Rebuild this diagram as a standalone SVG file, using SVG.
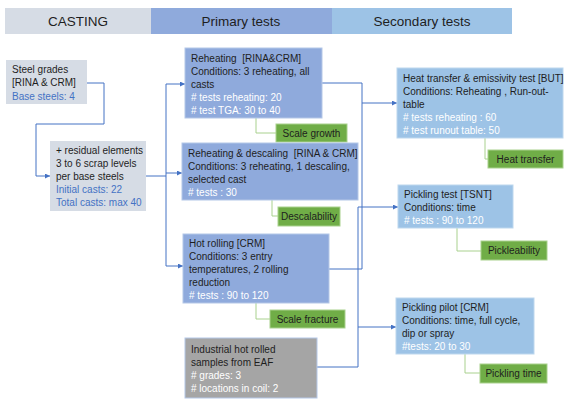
<svg xmlns="http://www.w3.org/2000/svg" width="572" height="403" viewBox="0 0 572 403">
<defs>
<style>
text{font-family:"Liberation Sans Narrow","Liberation Sans",Arial,sans-serif;font-size:10px;fill:#1e1e1e}
.hd{font-family:"Liberation Sans",Arial,sans-serif;font-size:13.5px;text-anchor:middle;fill:#1e1e1e}
.w{fill:#ffffff}
.b{fill:#4472c4}
.c{text-anchor:middle}
.cast{fill:#d6dce5}
.pri{fill:#8faadc;stroke:#b4c7e7;stroke-width:1}
.sec{fill:#9dc3e6;stroke:#bdd7ee;stroke-width:1}
.grn{fill:#70ad47;stroke:#a9d18e;stroke-width:1}
.ind{fill:#a5a5a5;stroke:#b4c7e7;stroke-width:1}
.ln{fill:none;stroke:#4472c4;stroke-width:1}
.gl{fill:none;stroke:#a9d18e;stroke-width:1}
</style>
<marker id="ar" viewBox="0 0 10 10" refX="10" refY="5" markerWidth="5" markerHeight="5" orient="auto">
<path d="M0,0 L10,5 L0,10 z" fill="#4472c4"/>
</marker>
</defs>
<rect width="572" height="403" fill="#ffffff"/>

<g id="headers">
<rect x="5" y="8" width="146" height="26" fill="#d6dce5"/>
<rect x="151" y="8" width="181" height="26" fill="#8faadc"/>
<rect x="332" y="8" width="180" height="26" fill="#9dc3e6"/>
<text class="hd" x="78" y="25.5">CASTING</text>
<text class="hd" x="241" y="25.5">Primary tests</text>
<text class="hd" x="422" y="25.5">Secondary tests</text>
</g>

<g id="connectors">
<path class="ln" d="M87,83 H104 V124 H36 V176 H50" marker-end="url(#ar)"/>
<path class="ln" d="M146,176 H166"/>
<path class="ln" d="M166,84 V266"/>
<path class="ln" d="M166,84 H185" marker-end="url(#ar)"/>
<path class="ln" d="M166,173 H182" marker-end="url(#ar)"/>
<path class="ln" d="M166,266 H183" marker-end="url(#ar)"/>
<path class="ln" d="M322,83 H362 V269 H329"/>
<path class="ln" d="M362,103 H397" marker-end="url(#ar)"/>
<path class="ln" d="M317,367 H358 V207 H398" marker-end="url(#ar)"/>
<path class="ln" d="M358,327 H396" marker-end="url(#ar)"/>
<path class="gl" d="M256,118 V133 H276"/>
<path class="gl" d="M272,200 V216 H278"/>
<path class="gl" d="M256,303 V319 H270"/>
<path class="gl" d="M485,138 V159 H488"/>
<path class="gl" d="M457,228 V251 H481"/>
<path class="gl" d="M465,354 V373 H480"/>
</g>

<g id="steel-grades">
<rect class="cast" x="6" y="60" width="81" height="44"/>
<text x="12" y="73">Steel grades</text>
<text x="12" y="86">[RINA &amp; CRM]</text>
<text class="b" x="12" y="99.5">Base steels: 4</text>
</g>

<g id="residual">
<rect class="cast" x="50" y="141" width="96" height="70"/>
<text x="56" y="154">+ residual elements</text>
<text x="56" y="167">3 to 6 scrap levels</text>
<text x="56" y="180">per base steels</text>
<text class="b" x="56" y="193">Initial casts: 22</text>
<text class="b" x="56" y="206">Total casts: max 40</text>
</g>

<g id="reheating">
<rect class="pri" x="185" y="48" width="137" height="70"/>
<text x="191" y="62">Reheating &#160;[RINA&amp;CRM]</text>
<text x="191" y="75">Conditions: 3 reheating, all</text>
<text x="191" y="88">casts</text>
<text class="w" x="191" y="101">#&#160;tests reheating: 20</text>
<text class="w" x="191" y="114">#&#160;test TGA: 30 to 40</text>
</g>

<g id="scale-growth">
<rect class="grn" x="276" y="124" width="71" height="18"/>
<text class="c" x="311.5" y="136.5">Scale growth</text>
</g>

<g id="descaling">
<rect class="pri" x="182" y="143" width="176" height="57"/>
<text x="188" y="157">Reheating &amp; descaling &#160;[RINA &amp; CRM]</text>
<text x="188" y="170">Conditions: 3 reheating, 1 descaling,</text>
<text x="188" y="183">selected cast</text>
<text class="w" x="188" y="196">#&#160;tests : 30</text>
</g>

<g id="descalability">
<rect class="grn" x="278" y="207" width="62" height="19"/>
<text class="c" x="309" y="220">Descalability</text>
</g>

<g id="hot-rolling">
<rect class="pri" x="183" y="234" width="146" height="69"/>
<text x="189" y="247">Hot rolling [CRM]</text>
<text x="189" y="260">Conditions: 3 entry</text>
<text x="189" y="273">temperatures, 2 rolling</text>
<text x="189" y="286">reduction</text>
<text class="w" x="189" y="299">#&#160;tests : 90 to 120</text>
</g>

<g id="scale-fracture">
<rect class="grn" x="270" y="310" width="75" height="18"/>
<text class="c" x="307.5" y="322.5">Scale fracture</text>
</g>

<g id="industrial">
<rect class="ind" x="185" y="338" width="132" height="60"/>
<text x="191" y="353">Industrial hot rolled</text>
<text x="191" y="366">samples from EAF</text>
<text class="w" x="191" y="379">#&#160;grades: 3</text>
<text class="w" x="191" y="392">#&#160;locations in coil: 2</text>
</g>

<g id="heat-transfer-test">
<rect class="sec" x="397" y="68" width="166" height="70"/>
<text x="403" y="82">Heat transfer &amp; emissivity test [BUT]</text>
<text x="403" y="95">Conditions: Reheating , Run-out-</text>
<text x="403" y="108">table</text>
<text class="w" x="403" y="121">#&#160;tests reheating : 60</text>
<text class="w" x="403" y="134">#&#160;test runout table: 50</text>
</g>

<g id="heat-transfer">
<rect class="grn" x="488" y="150" width="75" height="18"/>
<text class="c" x="525.5" y="162.5">Heat transfer</text>
</g>

<g id="pickling-test">
<rect class="sec" x="398" y="185" width="115" height="43"/>
<text x="404" y="198">Pickling test [TSNT]</text>
<text x="404" y="211">Conditions: time</text>
<text class="w" x="404" y="224">#&#160;tests : 90 to 120</text>
</g>

<g id="pickleability">
<rect class="grn" x="481" y="241" width="66" height="19"/>
<text class="c" x="514" y="254">Pickleability</text>
</g>

<g id="pickling-pilot">
<rect class="sec" x="396" y="298" width="138" height="56"/>
<text x="402" y="311">Pickling pilot [CRM]</text>
<text x="402" y="324">Conditions: time, full cycle,</text>
<text x="402" y="337">dip or spray</text>
<text class="w" x="402" y="350">#tests: 20 to 30</text>
</g>

<g id="pickling-time">
<rect class="grn" x="480" y="364" width="67" height="19"/>
<text class="c" x="513.5" y="377">Pickling time</text>
</g>
</svg>
